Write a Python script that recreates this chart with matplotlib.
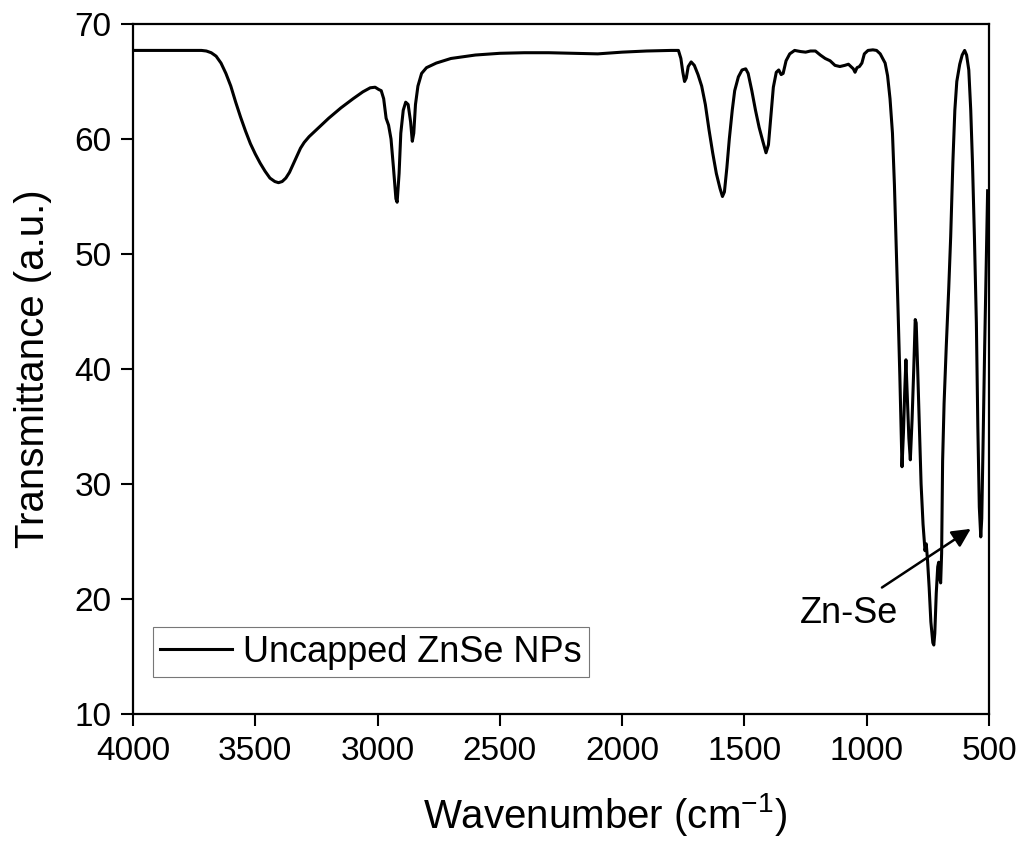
import numpy as np
import matplotlib.pyplot as plt

plt.rcParams['font.family'] = ['Liberation Sans', 'DejaVu Sans']
plt.rcParams['mathtext.fontset'] = 'custom'
plt.rcParams['mathtext.rm'] = 'Liberation Sans'

# FTIR spectrum (wavenumber in cm-1, transmittance in a.u.)
wavenumber = [3995, 3850, 3760, 3720, 3700, 3680, 3660, 3640, 3620, 3600, 3580,
              3560, 3540, 3520, 3500, 3480, 3460, 3440, 3420, 3405, 3390, 3375,
              3360, 3345, 3330, 3315, 3300, 3280, 3250, 3200, 3150, 3100, 3060,
              3030, 3010, 2995, 2985, 2975, 2965, 2955, 2945, 2935, 2925, 2920,
              2912, 2905, 2895, 2885, 2875, 2865, 2858, 2852, 2845, 2835, 2820,
              2800, 2760, 2700, 2600, 2500, 2400, 2300, 2200, 2100, 2000, 1900,
              1800, 1770, 1760, 1752, 1745, 1738, 1730, 1718, 1705, 1690, 1675,
              1660, 1645, 1630, 1615, 1600, 1590, 1582, 1572, 1562, 1550, 1540,
              1525, 1510, 1495, 1485, 1470, 1455, 1440, 1425, 1412, 1402, 1392,
              1382, 1370, 1360, 1350, 1342, 1330, 1315, 1295, 1270, 1250, 1230,
              1210, 1190, 1170, 1150, 1130, 1110, 1090, 1075, 1065, 1055, 1048,
              1040, 1030, 1020, 1010, 995, 975, 960, 945, 935, 925, 915, 905,
              895, 887, 880, 872, 865, 860, 856, 850, 845, 840, 835, 828, 822,
              815, 808, 802, 798, 792, 785, 778, 770, 762, 757, 752, 745, 738,
              730, 726, 722, 716, 710, 706, 702, 698, 694, 690, 684, 675, 665,
              657, 648, 640, 632, 620, 610, 600, 592, 583, 575, 568, 560, 552,
              546, 540, 534, 530, 525, 518, 512, 506]
transmittance = [67.7, 67.7, 67.7, 67.7, 67.65, 67.5, 67.2, 66.6, 65.7, 64.6, 63.2,
                 61.9, 60.7, 59.6, 58.7, 57.9, 57.2, 56.6, 56.3, 56.2, 56.3, 56.6,
                 57.1, 57.8, 58.5, 59.2, 59.7, 60.2, 60.8, 61.8, 62.7, 63.5, 64.1,
                 64.45, 64.5, 64.3, 64.2, 63.5, 61.8, 61.2, 60.0, 57.5, 54.8, 54.5,
                 57.0, 60.5, 62.5, 63.2, 63.0, 61.5, 59.8, 60.5, 63.0, 64.6, 65.7,
                 66.2, 66.6, 67.0, 67.3, 67.45, 67.5, 67.5, 67.45, 67.4, 67.55, 67.65,
                 67.7, 67.7, 67.0, 65.8, 65.0, 65.3, 66.3, 66.7, 66.4, 65.6, 64.6,
                 63.0, 60.8, 58.8, 57.0, 55.7, 55.0, 55.4, 57.5, 60.0, 62.5, 64.2,
                 65.4, 66.0, 66.1, 65.7, 64.2, 62.5, 61.0, 59.8, 58.8, 59.5, 62.0,
                 64.5, 65.8, 66.0, 65.6, 65.7, 66.8, 67.4, 67.7, 67.6, 67.55, 67.65,
                 67.65, 67.3, 67.0, 66.8, 66.4, 66.3, 66.4, 66.5, 66.3, 66.1, 65.8,
                 66.2, 66.3, 66.6, 67.4, 67.7, 67.75, 67.7, 67.4, 67.0, 66.6, 65.5, 63.5,
                 60.5, 56.0, 51.0, 45.0, 39.5, 35.0, 31.5, 34.5, 38.0, 40.8, 38.0, 34.0, 32.1,
                 35.5, 40.0, 44.3, 44.0, 40.0, 35.0, 30.0, 26.5, 24.2, 24.8, 23.5, 21.0, 18.0,
                 16.2, 16.0, 17.0, 20.5, 22.8, 23.2, 21.8, 21.4, 24.0, 32.0, 37.0, 42.0, 47.0,
                 51.5, 58.0, 62.5, 65.0, 66.5, 67.3, 67.7, 67.3, 66.0, 62.5, 58.0, 51.5, 44.0,
                 35.0, 28.0, 25.4, 27.0, 33.0, 42.0, 49.0, 55.5]

xticks = [4000, 3500, 3000, 2500, 2000, 1500, 1000, 500]
yticks = [10, 20, 30, 40, 50, 60, 70]

fig = plt.figure(figsize=(10.18, 8.44), dpi=100)
ax = fig.add_axes([0.1306, 0.154, 0.841, 0.8176])

ax.plot(wavenumber, transmittance, color='black', lw=2.2, label='Uncapped ZnSe NPs')

ax.set_xlim(4000, 500)
ax.set_ylim(10, 70)
ax.set_xticks(xticks)
ax.set_yticks(yticks)
ax.tick_params(direction='out', length=8.5, width=1.5, labelsize=24, pad=7)
for s in ax.spines.values():
    s.set_linewidth(1.6)

ax.set_xlabel('Wavenumber (cm$^{\\mathregular{-1}}$)', fontsize=29)
ax.xaxis.set_label_coords(0.551, -0.112)
ax.set_ylabel('Transmittance (a.u.)', fontsize=29, labelpad=16)

# Zn-Se label and arrow
ax.text(1073, 18.7, 'Zn-Se', fontsize=26, ha='center', va='center')
ax.annotate('', xy=(575, 26.1), xytext=(938, 21.0),
            arrowprops=dict(arrowstyle='-|>', color='black', lw=1.8,
                            mutation_scale=28, shrinkA=0, shrinkB=0))

leg = ax.legend(loc='lower left', bbox_to_anchor=(0.023, 0.054), fontsize=26,
                frameon=True, fancybox=False, edgecolor='#555555',
                handlelength=2.0, borderpad=0.2, handletextpad=0.3,
                borderaxespad=0)
leg.get_frame().set_linewidth(0.8)

fig.savefig('out.png', dpi=100)
